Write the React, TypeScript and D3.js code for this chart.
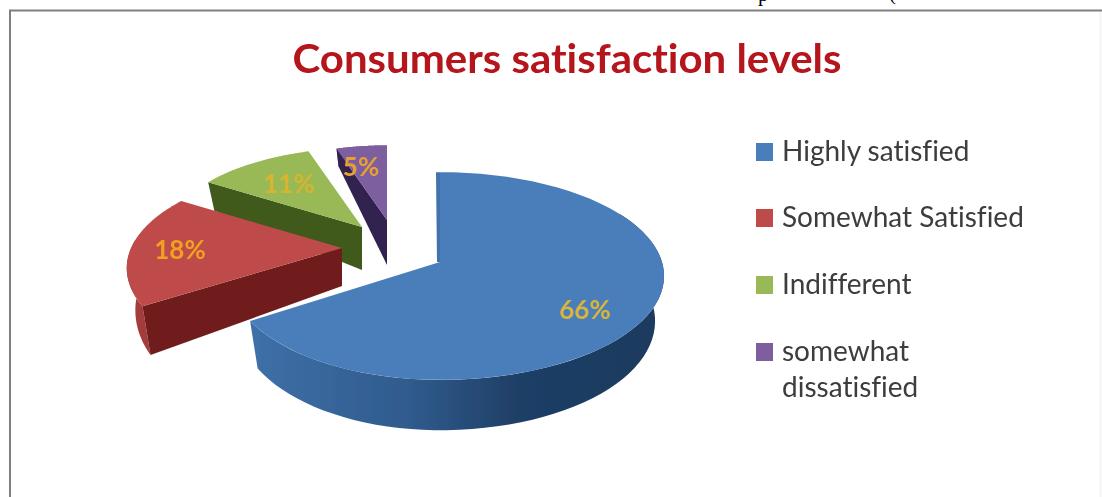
import React from "react";
import * as d3 from "d3";

const categories = ["Highly satisfied", "Somewhat Satisfied", "Indifferent", "somewhat dissatisfied"];
const values = [66, 18, 11, 5];
const valueLabels = ["66%", "18%", "11%", "5%"];
const titleText = "Consumers satisfaction levels";

// layout of the exploded 3D pie (one entry per slice)
const apexX = [440, 342, 362, 387];
const apexY = [262, 248, 227, 220];
const scaleRight = [1, 0.95, 0.88, 0.83];
const scaleLeft = [0.94, 0.95, 0.88, 0.83];
const perspective = [0.135, 0.2, 0.135, 0.135];
const wallDepth = [44, 38, 43, 45];
const wallTaper = [0.25, 0.65, 0.7, 0.7];
const labelX = [585, 180, 289, 361];
const labelY = [310, 250, 184, 167];
const topColors = ["#4a7ebb", "#be4b48", "#98b954", "#7d5fa0"];
const cutColors = ["#4272ac", "#6f1f1e", "#3f5a1f", "#33204f"];
const rimColors = ["#3a689f", "#a33c3a", "#7d9a42", "#5f4680"];
const labelColors = ["#d9b53a", "#f0a020", "#d8b52e", "#e8a030"];

const RX = 222, RY = 102;

const pie = d3.pie<number>().sort(null).value((d) => d);
const arcs = pie(values);

function pt(i: number, a: number, r = 1) {
  const d = Math.cos(a) * r;
  const w = 1 + perspective[i] * d;
  const sx = Math.sin(a) < 0 ? scaleLeft[i] : scaleRight[i];
  return { x: apexX[i] + (RX * sx * r * Math.sin(a)) / w, y: apexY[i] - (RY * scaleRight[i] * r * Math.cos(a)) / w, d };
}
function low(i: number, a: number, r = 1) {
  const p = pt(i, a, r);
  return {
    x: apexX[i] + (p.x - apexX[i]) * 0.96,
    y: apexY[i] + (p.y - apexY[i]) * 0.96 + wallDepth[i] * (1 - wallTaper[i] * p.d),
  };
}
const line = d3.line<{ x: number; y: number }>().x((d) => d.x).y((d) => d.y);
function samples(a0: number, a1: number) {
  return d3.range(0, 61).map((t) => a0 + ((a1 - a0) * t) / 60);
}
function topPath(i: number) {
  const arc = arcs[i];
  const pts = [{ x: apexX[i], y: apexY[i] }, ...samples(arc.startAngle, arc.endAngle).map((a) => pt(i, a))];
  return line(pts)! + "Z";
}
function cutPath(i: number, a: number) {
  const p = pt(i, a);
  const q = low(i, a);
  const apex = { x: apexX[i], y: apexY[i] };
  const apexLow = low(i, a, 0);
  return line([apex, p, q, apexLow])! + "Z";
}
function rimPath(i: number, a0: number, a1: number) {
  const s = samples(a0, a1);
  return line([...s.map((a) => pt(i, a)), ...s.reverse().map((a) => low(i, a))])! + "Z";
}

const legendY = [152, 218, 285, 352];
const rad = Math.PI / 180;
const FONT = "Lato, Carlito, sans-serif";
const noLig = { fontVariantLigatures: "none" } as React.CSSProperties;

export default function App() {
  const blueTop = pt(0, 0);
  return (
    <svg
      width={1102}
      height={497}
      viewBox="0 0 1102 497"
      style={{ position: "fixed", left: 0, top: 0, display: "block", background: "#fff" }}
    >
      <defs>
        <linearGradient id="blueRim" gradientUnits="userSpaceOnUse" x1={250} x2={660} y1={0} y2={0}>
          <stop offset="0" stopColor="#3f70a8" />
          <stop offset="0.4" stopColor="#2f5a8c" />
          <stop offset="0.65" stopColor="#1f3f66" />
          <stop offset="1" stopColor="#1f3a5e" />
        </linearGradient>
        <filter id="soft" x="-5%" y="-5%" width="110%" height="110%">
          <feGaussianBlur stdDeviation="0.7" />
        </filter>
      </defs>
      <text x={758} y={1} fontFamily="Liberation Serif" fontSize={21} fill="#000">p</text>
      <text x={889} y={0} fontFamily="Liberation Serif" fontSize={21} fill="#000">(</text>
      <path d="M1100.5 11V497" fill="none" stroke="#f4f4f4" strokeWidth={2} />
      <path d="M10 497V10.5H1102" fill="none" stroke="#808080" strokeWidth={2} filter="url(#soft)" />
      <g filter="url(#soft)">
        <text
          x={567}
          y={73}
          textAnchor="middle"
          fontFamily={FONT}
          fontWeight={700}
          fontSize={41}
          fill="#b5121b"
          textLength={549}
          lengthAdjust="spacingAndGlyphs"
          style={noLig}
        >
          {titleText}
        </text>

        {/* purple, green, red, blue: back to front */}
        <path d={rimPath(3, arcs[3].startAngle, arcs[3].endAngle)} fill={rimColors[3]} />
        <path d={cutPath(3, arcs[3].startAngle)} fill={cutColors[3]} />
        <path d={topPath(3)} fill={topColors[3]} />

        <path d={cutPath(2, arcs[2].startAngle)} fill={cutColors[2]} />
        <path d={topPath(2)} fill={topColors[2]} />

        <path d={rimPath(1, arcs[1].startAngle, 275 * rad)} fill={rimColors[1]} />
        <path d={cutPath(1, arcs[1].startAngle)} fill={cutColors[1]} />
        <path d={topPath(1)} fill={topColors[1]} />

        <path d={rimPath(0, 60 * rad, arcs[0].endAngle)} fill="url(#blueRim)" />
        <path d={topPath(0)} fill={topColors[0]} />
        <path
          d={line([blueTop, { x: apexX[0], y: apexY[0] }, { x: apexX[0] - 3, y: apexY[0] }, { x: blueTop.x - 4, y: blueTop.y }])! + "Z"}
          fill={cutColors[0]}
        />

        {values.map((_, i) => (
          <text
            key={i}
            x={labelX[i]}
            y={labelY[i] + 9}
            textAnchor="middle"
            fontFamily={FONT}
            fontWeight={700}
            fontSize={26}
            fill={labelColors[i]}
          >
            {valueLabels[i]}
          </text>
        ))}

        {categories.map((c, i) => (
          <g key={c}>
            <rect x={756} y={legendY[i] - 9} width={17} height={18} fill={topColors[i]} />
            {i < 3 ? (
              <text x={782} y={legendY[i] + 9} fontFamily={FONT} fontSize={28} fill="#3c3c3c" style={noLig}>
                {c}
              </text>
            ) : (
              <text fontFamily={FONT} fontSize={28} fill="#3c3c3c" style={noLig}>
                <tspan x={782} y={legendY[i] + 9}>{c.split(" ")[0]}</tspan>
                <tspan x={782} y={legendY[i] + 45}>{c.split(" ")[1]}</tspan>
              </text>
            )}
          </g>
        ))}
      </g>
    </svg>
  );
}
